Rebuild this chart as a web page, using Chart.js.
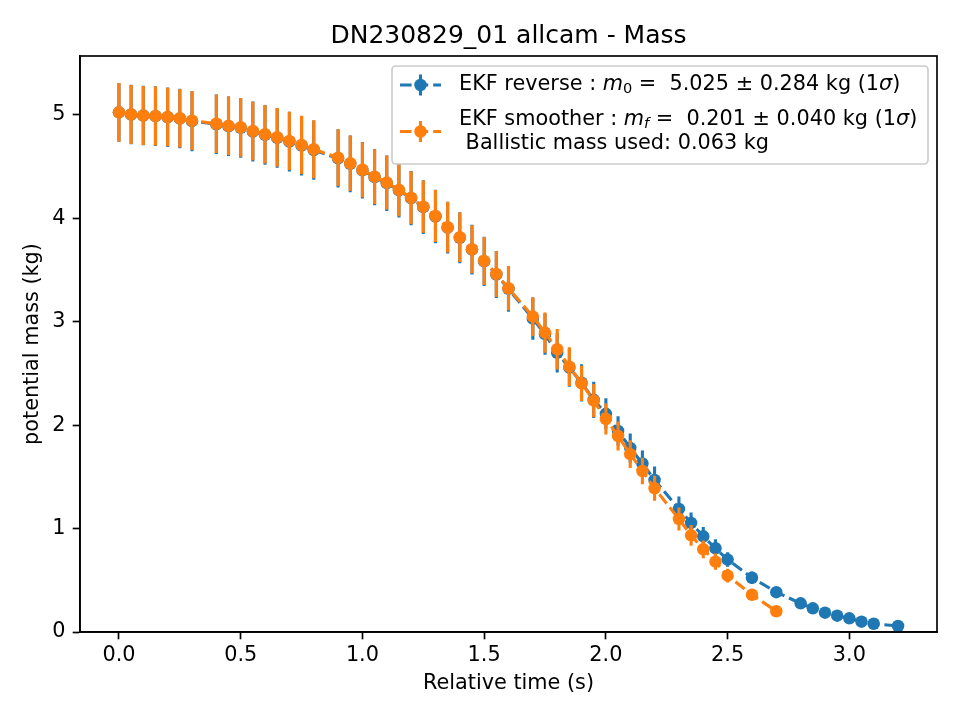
<!DOCTYPE html>
<html><head><meta charset="utf-8">
<script src="https://cdn.jsdelivr.net/npm/chart.js@4/dist/chart.umd.min.js"></script>
<style>html,body{margin:0;padding:0;background:#fff}</style>
</head><body>
<canvas id="c" width="960" height="720"></canvas>
<script>
const titleText = 'DN230829_01 allcam - Mass';
const xLabel = 'Relative time (s)';
const yLabel = 'potential mass (kg)';
const xTicks = [0.0, 0.5, 1.0, 1.5, 2.0, 2.5, 3.0];
const yTicks = [0, 1, 2, 3, 4, 5];

// EKF smoother (orange)
const smoothTime = [0.0,0.05,0.1,0.15,0.2,0.25,0.3,
  0.4,0.45,0.5,0.55,0.6,0.65,0.7,0.75,0.8,
  0.9,0.95,1.0,1.05,1.1,1.15,1.2,1.25,1.3,1.35,1.4,1.45,1.5,1.55,1.6,
  1.7,1.75,1.8,1.85,1.9,1.95,2.0,2.05,2.1,2.15,2.2,
  2.3,2.35,2.4,2.45,2.5,
  2.6,2.7];
const smoothMass = [5.025,5.005,4.995,4.99,4.98,4.968,4.945,
  4.915,4.895,4.88,4.845,4.813,4.784,4.749,4.71,4.668,
  4.587,4.533,4.47,4.403,4.346,4.275,4.2,4.113,4.023,3.914,3.817,3.701,3.588,3.462,3.324,
  3.05,2.895,2.734,2.566,2.405,2.237,2.06,1.895,1.72,1.557,1.39,
  1.093,0.935,0.80,0.68,0.545,
  0.36,0.201];
const smoothErr = [0.284,0.285,0.285,0.286,0.283,0.284,0.285,
  0.283,0.283,0.284,0.283,0.283,0.282,0.282,0.282,0.281,
  0.274,0.268,0.266,0.265,0.261,0.254,0.255,0.253,0.252,0.244,0.24,0.233,0.232,0.222,0.213,
  0.188,0.195,0.196,0.187,0.17,0.16,0.15,0.14,0.134,0.128,0.12,
  0.112,0.1,0.086,0.078,0.066,
  0.05,0.04];

// EKF reverse (blue)
const reverseTime = [0.0,0.05,0.1,0.15,0.2,0.25,0.3,
  0.4,0.45,0.5,0.55,0.6,0.65,0.7,0.75,0.8,
  0.9,0.95,1.0,1.05,1.1,1.15,1.2,1.25,1.3,1.35,1.4,1.45,1.5,1.55,1.6,
  1.7,1.75,1.8,1.85,1.9,1.95,2.0,2.05,2.1,2.15,2.2,
  2.3,2.35,2.4,2.45,2.5,
  2.6,2.7,
  2.8,2.85,2.9,2.95,3.0,3.05,3.1,3.2];
const reverseMass = [5.025,5.004,4.994,4.988,4.978,4.965,4.94,
  4.91,4.89,4.876,4.84,4.808,4.778,4.742,4.703,4.66,
  4.58,4.527,4.465,4.398,4.34,4.27,4.195,4.108,4.018,3.91,3.812,3.697,3.584,3.457,3.318,
  3.03,2.88,2.70,2.556,2.41,2.245,2.11,1.944,1.78,1.63,1.47,
  1.19,1.055,0.925,0.81,0.70,
  0.525,0.385,
  0.277,0.229,0.187,0.158,0.132,0.10,0.08,0.058];
const reverseErr = [0.285,0.287,0.288,0.289,0.287,0.288,0.29,
  0.288,0.288,0.289,0.289,0.289,0.288,0.288,0.288,0.287,
  0.281,0.275,0.273,0.272,0.268,0.262,0.262,0.26,0.259,0.25,0.247,0.24,0.238,0.228,0.22,
  0.205,0.2,0.19,0.185,0.18,0.175,0.15,0.143,0.14,0.125,0.13,
  0.12,0.1,0.09,0.087,0.07,
  0.06,0.05,
  0.045,0.04,0.037,0.034,0.032,0.03,0.028,0.025];

const BLUE = '#1f77b4', ORANGE = '#ff7f0e';
const FONT = 'DejaVu Sans';
const FS = 20.8;       // legend / axis label / tick font
const LW = 3.1, DASH = [11.6, 5], MR = 6.25, EW = 3.1;

const toPts = (t, m) => t.map((v, i) => ({x: v, y: m[i]}));

const errorBarPlugin = {
  id: 'errbars',
  beforeDatasetDraw(chart, args) {
    const ds = chart.data.datasets[args.index];
    if (!ds.errors) return;
    const xs = chart.scales.x, ys = chart.scales.y, ctx = chart.ctx, a = chart.chartArea;
    ctx.save();
    ctx.beginPath(); ctx.rect(a.left, a.top, a.right - a.left, a.bottom - a.top); ctx.clip();
    ctx.strokeStyle = ds.borderColor; ctx.lineWidth = EW; ctx.setLineDash([]);
    ctx.beginPath();
    ds.data.forEach((p, i) => {
      const px = xs.getPixelForValue(p.x);
      ctx.moveTo(px, ys.getPixelForValue(p.y + ds.errors[i]));
      ctx.lineTo(px, ys.getPixelForValue(p.y - ds.errors[i]));
    });
    ctx.stroke();
    ctx.restore();
  }
};

function drawRich(ctx, x, y, segs) {
  for (const s of segs) {
    const size = s.sub ? FS * 0.7 : FS;
    ctx.font = (s.it ? 'italic ' : '') + size + 'px "' + FONT + '"';
    ctx.fillText(s.t, x, y + (s.sub ? 4.5 : 0));
    x += ctx.measureText(s.t).width;
  }
}

function drawHandle(ctx, x0, x1, y, color) {
  ctx.save();
  ctx.strokeStyle = color; ctx.lineWidth = LW; ctx.setLineDash(DASH);
  ctx.beginPath(); ctx.moveTo(x0, y); ctx.lineTo(x1, y); ctx.stroke();
  ctx.setLineDash([]); ctx.lineWidth = EW;
  const cx = (x0 + x1) / 2;
  ctx.beginPath(); ctx.moveTo(cx, y - 10.5); ctx.lineTo(cx, y + 10.5); ctx.stroke();
  ctx.fillStyle = color;
  ctx.beginPath(); ctx.arc(cx, y, MR, 0, Math.PI * 2); ctx.fill();
  ctx.restore();
}

const framePlugin = {
  id: 'frame',
  afterDatasetsDraw(chart) {
    const a = chart.chartArea, ctx = chart.ctx;
    ctx.save();
    ctx.strokeStyle = '#000'; ctx.lineWidth = 1.67;
    ctx.strokeRect(a.left, a.top, a.right - a.left, a.bottom - a.top);
    ctx.restore();
  },
  afterDraw(chart) {
    const ctx = chart.ctx;
    const bx = 392, by = 66, bw = 536, bh = 98, r = 4;
    ctx.save();
    ctx.beginPath();
    ctx.moveTo(bx + r, by); ctx.lineTo(bx + bw - r, by); ctx.arcTo(bx + bw, by, bx + bw, by + r, r);
    ctx.lineTo(bx + bw, by + bh - r); ctx.arcTo(bx + bw, by + bh, bx + bw - r, by + bh, r);
    ctx.lineTo(bx + r, by + bh); ctx.arcTo(bx, by + bh, bx, by + bh - r, r);
    ctx.lineTo(bx, by + r); ctx.arcTo(bx, by, bx + r, by, r); ctx.closePath();
    ctx.fillStyle = 'rgba(255,255,255,0.8)'; ctx.fill();
    ctx.strokeStyle = '#cccccc'; ctx.lineWidth = 1.67; ctx.stroke();

    drawHandle(ctx, 400, 441, 85, BLUE);
    drawHandle(ctx, 400, 441, 131.5, ORANGE);

    ctx.fillStyle = '#000'; ctx.textBaseline = 'middle'; ctx.textAlign = 'left';
    drawRich(ctx, 459, 85, [
      {t: 'EKF reverse : '}, {t: 'm', it: true}, {t: '0', sub: true},
      {t: ' =  5.025 ± 0.284 kg (1'}, {t: 'σ', it: true}, {t: ')'}]);
    drawRich(ctx, 459, 120, [
      {t: 'EKF smoother : '}, {t: 'm', it: true}, {t: 'f', sub: true, it: true},
      {t: ' =  0.201 ± 0.040 kg (1'}, {t: 'σ', it: true}, {t: ')'}]);
    drawRich(ctx, 459, 144, [{t: ' Ballistic mass used: 0.063 kg'}]);
    ctx.restore();
  }
};

const tickFont = {family: FONT, size: FS};
const labelFont = {family: FONT, size: FS};

new Chart(document.getElementById('c'), {
  type: 'line',
  data: {
    datasets: [
      {
        label: 'EKF reverse', data: toPts(reverseTime, reverseMass), errors: reverseErr,
        borderColor: BLUE, backgroundColor: BLUE, pointBackgroundColor: BLUE, pointBorderColor: BLUE,
        borderWidth: LW, borderDash: DASH, pointRadius: MR, pointBorderWidth: 0,
        tension: 0, fill: false, order: 2
      },
      {
        label: 'EKF smoother', data: toPts(smoothTime, smoothMass), errors: smoothErr,
        borderColor: ORANGE, backgroundColor: ORANGE, pointBackgroundColor: ORANGE, pointBorderColor: ORANGE,
        borderWidth: LW, borderDash: DASH, pointRadius: MR, pointBorderWidth: 0,
        tension: 0, fill: false, order: 1
      }
    ]
  },
  options: {
    responsive: false, animation: false, devicePixelRatio: 1, events: [],
    layout: {padding: {left: 0, right: 23, top: 0, bottom: 0}},
    plugins: {
      legend: {display: false}, tooltip: {enabled: false},
      title: {display: true, text: titleText, color: '#000', fullSize: false,
        font: {family: FONT, size: 25, weight: 'normal', lineHeight: 1.2}, padding: {top: 21, bottom: 5}}
    },
    scales: {
      x: {
        type: 'linear', min: -0.16, max: 3.36,
        afterBuildTicks(s) { s.ticks = xTicks.map(v => ({value: v})); },
        afterFit(s) { s.height = 88; },
        ticks: {callback: v => Number(v).toFixed(1), color: '#000', font: tickFont, padding: 3.7, maxRotation: 0, autoSkip: false},
        grid: {drawOnChartArea: false, drawTicks: true, tickLength: 7.3, tickWidth: 1.67, tickColor: '#000'},
        border: {display: true, color: '#000', width: 1.67},
        title: {display: true, text: xLabel, color: '#000', font: labelFont, padding: {top: 0, bottom: 23.5}}
      },
      y: {
        type: 'linear', min: 0, max: 5.57,
        afterBuildTicks(s) { s.ticks = yTicks.map(v => ({value: v})); },
        afterFit(s) { s.width = 80; },
        ticks: {callback: v => String(v), color: '#000', font: tickFont, padding: 7.3, autoSkip: false},
        grid: {drawOnChartArea: false, drawTicks: true, tickLength: 7.3, tickWidth: 1.67, tickColor: '#000'},
        border: {display: true, color: '#000', width: 1.67},
        title: {display: true, text: yLabel, color: '#000', font: labelFont, padding: {top: 20.5, bottom: 0}}
      }
    }
  },
  plugins: [errorBarPlugin, framePlugin]
});
</script>
</body></html>
